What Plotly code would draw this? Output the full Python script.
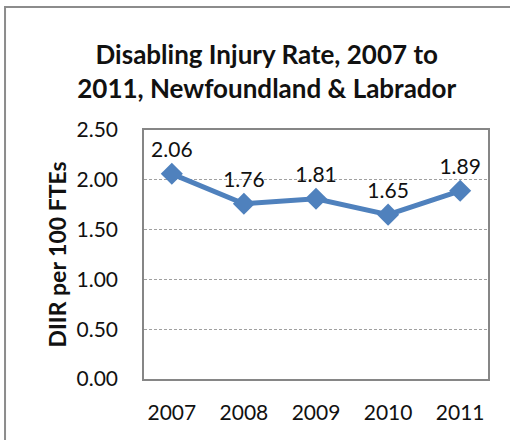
import plotly.graph_objects as go

years = ["2007", "2008", "2009", "2010", "2011"]
rates = [2.06, 1.76, 1.81, 1.65, 1.89]
y_ticks = [0.0, 0.5, 1.0, 1.5, 2.0, 2.5]
title_text = "<b>Disabling Injury Rate, 2007 to<br>2011, Newfoundland &amp; Labrador</b>"
y_title = "<b>DIIR per 100 FTEs</b>"

BLUE = "#4F81BD"
FONT = "Lato"
TXT = "#111111"

fig = go.Figure()
fig.add_trace(go.Scatter(
    x=years, y=rates,
    mode="lines+markers+text",
    line=dict(color=BLUE, width=5),
    marker=dict(symbol="diamond", size=17, color=BLUE),
    text=[f"{v:.2f}" for v in rates],
    textposition="top center",
    textfont=dict(family=FONT, size=21, color=TXT),
    cliponaxis=False,
    showlegend=False,
    hoverinfo="skip",
))

fig.update_layout(
    width=510, height=440,
    margin=dict(l=144, r=22, t=130, b=61, autoexpand=False),
    paper_bgcolor="white", plot_bgcolor="white",
    font=dict(family=FONT, size=21, color=TXT),
    title=dict(text=title_text, x=0.523, xanchor="center", xref="container",
               y=0.854, yanchor="middle", yref="container", automargin=False,
               font=dict(family=FONT, size=26, color=TXT)),
    xaxis=dict(type="category", showgrid=False, showline=True, linecolor="#868686",
               linewidth=1.5, mirror=True, ticks="", ticklabelstandoff=14,
               automargin=False, tickfont=dict(family=FONT, size=21, color=TXT)),
    yaxis=dict(range=[0, 2.5], tickvals=y_ticks, tickformat=".2f",
               showgrid=True, gridcolor="#a0a0a0", griddash="3px,2px", gridwidth=1,
               showline=True, linecolor="#868686", linewidth=1.5, mirror=True,
               ticks="", ticklabelstandoff=20, zeroline=False, automargin=False,
               tickfont=dict(family=FONT, size=21, color=TXT)),
    annotations=[dict(text=y_title, xref="paper", yref="paper", x=-0.253, y=0.5,
                      xanchor="center", yanchor="middle", textangle=-90,
                      showarrow=False, font=dict(family=FONT, size=23, color=TXT))],
    shapes=[dict(type="rect", xref="paper", yref="paper",
                 x0=-0.404, x1=1.2, y0=-0.4, y1=1.494,
                 line=dict(color="#8c8c8c", width=2), layer="below")],
)

fig.write_html("out.html", config={"displayModeBar": False},
               post_script="document.body.style.margin='0';")
